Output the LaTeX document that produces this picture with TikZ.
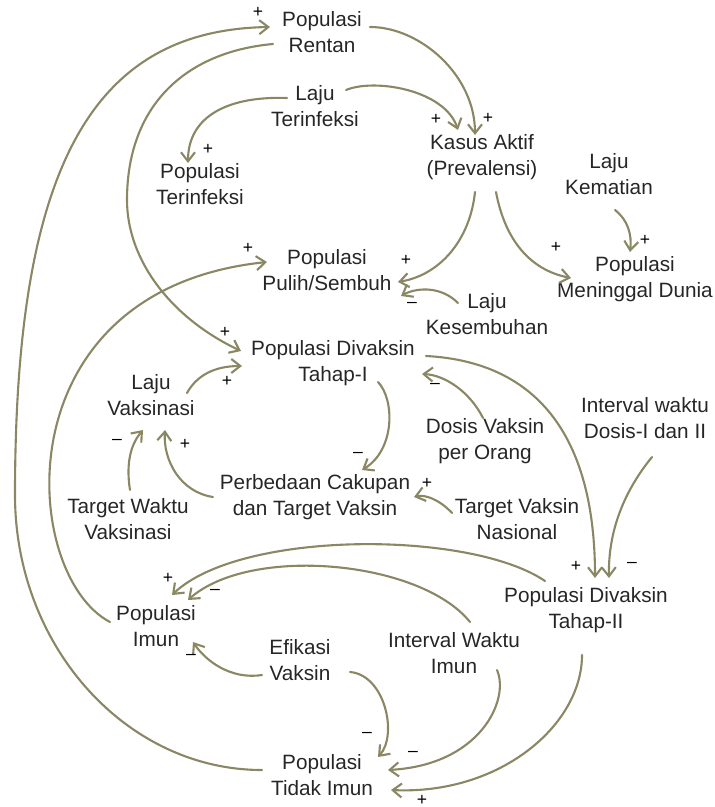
\documentclass[tikz,border=0pt]{standalone}
\usepackage{fontspec}
\setmainfont{Liberation Sans}
\usepackage{xcolor}
\usetikzlibrary{arrows.meta,calc}
\definecolor{lnk}{HTML}{8A8764}
\tikzset{
  var/.style ={align=center, inner sep=1pt, text=black!85, font=\fontsize{11.8}{14.4}\selectfont},
  edge/.style={-{Straight Barb[length=1.8mm,width=2.8mm]}, line width=1.2pt, draw=lnk, line cap=round},
  sgn/.style ={inner sep=0pt, text=black, font=\fontsize{10}{10}\selectfont},
}

\begin{document}
\begin{tikzpicture}[x=0.02cm, y=-0.02cm]
  \useasboundingbox (0,0) rectangle (714,807);
  \node[var] (rentan)   at (322,32)  {Populasi\\Rentan};
  \node[var] (lajuinf)  at (315,106) {Laju\\Terinfeksi};
  \node[var] (popinf)   at (200,184) {Populasi\\Terinfeksi};
  \node[var] (kasus)    at (482,157) {Kasus Aktif\\(Prevalensi)};
  \node[var] (lajumati) at (609,174) {Laju\\Kematian};
  \node[var] (mati)     at (635,279) {Populasi\\Meninggal Dunia};
  \node[var] (pulih)    at (327,270) {Populasi\\Pulih/Sembuh};
  \node[var] (lajusbh)  at (487,314) {Laju\\Kesembuhan};
  \node[var] (vak1)     at (333,363) {Populasi Divaksin\\Tahap-I};
  \node[var] (lajuvak)  at (151,395) {Laju\\Vaksinasi};
  \node[var] (dosis)    at (485,441) {Dosis Vaksin\\per Orang};
  \node[var] (intdosis) at (645,418) {Interval waktu\\Dosis-I dan II};
  \node[var] (beda)     at (315,497) {Perbedaan Cakupan\\dan Target Vaksin};
  \node[var] (tgtnas)   at (517,519) {Target Vaksin\\Nasional};
  \node[var] (tgtwkt)   at (128,519) {Target Waktu\\Vaksinasi};
  \node[var] (vak2)     at (586,610) {Populasi Divaksin\\Tahap-II};
  \node[var] (imun)     at (156,626) {Populasi\\Imun};
  \node[var] (efikasi)  at (300,660) {Efikasi\\Vaksin};
  \node[var] (intimun)  at (454,653) {Interval Waktu\\Imun};
  \node[var] (tdkimun)  at (322,775) {Populasi\\Tidak Imun};

  \draw[edge] ($(tdkimun.center)+(-60,-5)$) .. controls (126,770) and (15,646) .. (15,495)
    .. controls (15,167) and (92,30) .. ($(rentan.center)+(-52,-5)$);
  \draw[edge] ($(rentan.center)+(-49,12)$) .. controls (185,52) and (127,106) .. (127,200)
    .. controls (127,260) and (171,318) .. ($(vak1.center)+(-92,-12)$);
  \draw[edge] ($(rentan.center)+(48,-5)$) .. controls (420,27) and (475,75) .. ($(kasus.center)+(-7,-22)$);
  \draw[edge] ($(lajuinf.center)+(31,-16)$) .. controls (375,78) and (445,90) .. ($(kasus.center)+(-24,-27)$);
  \draw[edge] ($(lajuinf.center)+(-28,-8)$) .. controls (230,96) and (188,115) .. ($(popinf.center)+(-12,-21)$);
  \draw[edge] ($(kasus.center)+(-7,35)$) .. controls (470,240) and (440,275) .. ($(pulih.center)+(71,12)$);
  \draw[edge] ($(kasus.center)+(14,35)$) .. controls (505,240) and (530,270) .. ($(mati.center)+(-64,-1)$);
  \draw[edge] ($(lajumati.center)+(6,36)$) .. controls (628,220) and (632,235) .. ($(mati.center)+(-5,-27)$);
  \draw[edge] ($(lajusbh.center)+(-29,-11)$) .. controls (440,285) and (415,288) .. ($(pulih.center)+(74,26)$);
  \draw[edge] ($(imun.center)+(-46,-4)$) .. controls (20,575) and (0,290) .. ($(pulih.center)+(-60,-8)$);
  \draw[edge] ($(lajuvak.center)+(36,-2)$) .. controls (197,375) and (215,366) .. ($(vak1.center)+(-91,3)$);
  \draw[edge] ($(tgtwkt.center)+(2,-29)$) .. controls (126,465) and (130,445) .. ($(lajuvak.center)+(-8,35)$);
  \draw[edge] ($(beda.center)+(-102,0)$) .. controls (180,492) and (163,460) .. ($(lajuvak.center)+(14,35)$);
  \draw[edge] ($(vak1.center)+(45,19)$) .. controls (395,400) and (395,450) .. ($(beda.center)+(47,-27)$);
  \draw[edge] ($(dosis.center)+(-2,-23)$) .. controls (470,392) and (445,375) .. ($(vak1.center)+(89,11)$);
  \draw[edge] ($(tgtnas.center)+(-65,-6)$) .. controls (440,500) and (425,494) .. ($(beda.center)+(99,0)$);
  \draw[edge] ($(vak1.center)+(93,-7)$) .. controls (540,362) and (595,440) .. ($(vak2.center)+(9,-32)$);
  \draw[edge] ($(intdosis.center)+(7,39)$) .. controls (625,490) and (608,530) .. ($(vak2.center)+(23,-32)$);
  \draw[edge] ($(vak2.center)+(-41,-29)$) .. controls (470,530) and (240,530) .. ($(imun.center)+(16,-31)$);
  \draw[edge] ($(intimun.center)+(16,-31)$) .. controls (420,560) and (250,545) .. ($(imun.center)+(32,-26)$);
  \draw[edge] ($(efikasi.center)+(-38,15)$) .. controls (230,680) and (205,660) .. ($(imun.center)+(37,16)$);
  \draw[edge] ($(efikasi.center)+(50,12)$) .. controls (385,675) and (398,735) .. ($(tdkimun.center)+(56,-18)$);
  \draw[edge] ($(intimun.center)+(43,17)$) .. controls (510,700) and (480,765) .. ($(tdkimun.center)+(66,-5)$);
  \draw[edge] ($(vak2.center)+(-4,45)$) .. controls (582,725) and (500,795) .. ($(tdkimun.center)+(69,15)$);

  \node[sgn] (s1)  at (258,12)  {+};
  \node[sgn] (s2)  at (225,332) {+};
  \node[sgn] (s3)  at (488,118) {+};
  \node[sgn] (s4)  at (436,119) {+};
  \node[sgn] (s5)  at (208,149) {+};
  \node[sgn] (s6)  at (406,260) {+};
  \node[sgn] (s7)  at (556,247) {+};
  \node[sgn] (s8)  at (645,240) {+};
  \node[sgn] (s9)  at (412,305) {\textendash};
  \node[sgn] (s10) at (248,248) {+};
  \node[sgn] (s11) at (227,381) {+};
  \node[sgn] (s12) at (117,442) {\textendash};
  \node[sgn] (s13) at (185,444) {+};
  \node[sgn] (s14) at (358,455) {\textendash};
  \node[sgn] (s15) at (435,386) {\textendash};
  \node[sgn] (s16) at (427,483) {+};
  \node[sgn] (s17) at (576,566) {+};
  \node[sgn] (s18) at (632,565) {\textendash};
  \node[sgn] (s19) at (168,578) {+};
  \node[sgn] (s20) at (215,592) {\textendash};
  \node[sgn] (s21) at (191,657) {\textendash};
  \node[sgn] (s22) at (367,735) {\textendash};
  \node[sgn] (s23) at (413,754) {\textendash};
  \node[sgn] (s24) at (422,800) {+};
\end{tikzpicture}
\end{document}
